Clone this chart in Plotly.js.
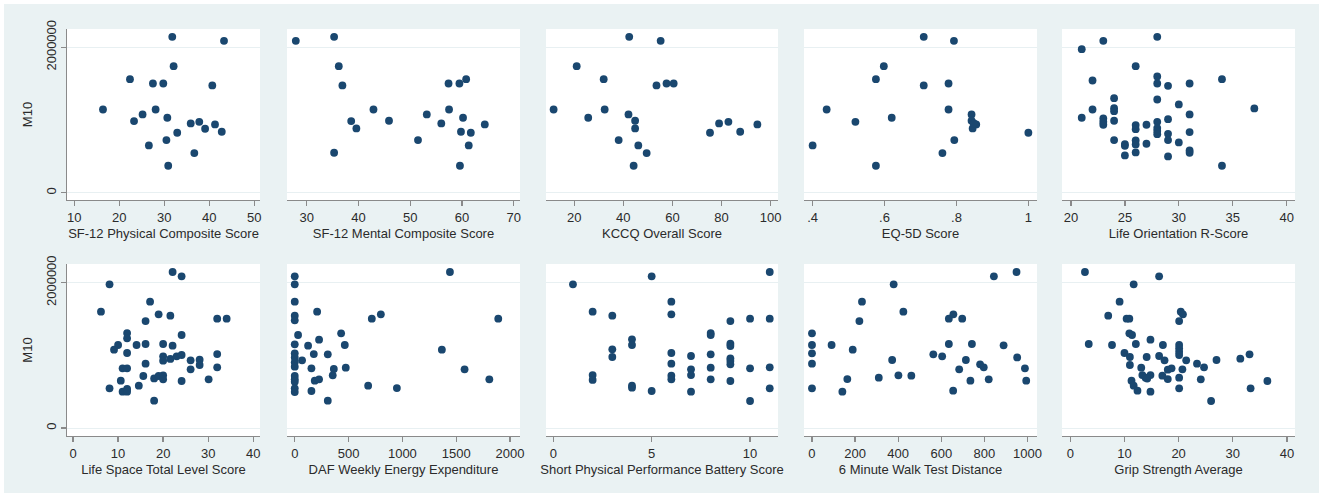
<!DOCTYPE html>
<html><head><meta charset="utf-8">
<script src="https://cdn.plot.ly/plotly-3.0.1.min.js"></script>
<style>html,body{margin:0;padding:0;background:#fff}#chart{width:1324px;height:496px}</style>
</head><body><div id="chart"></div>
<script>
// ---------- DATA ----------
const yTitle = "M10";
const yTickVals = [0, 2000000];
const yTickText = ["0", "2000000"];

// Row 1
const sf12PhysTitle = "SF-12 Physical Composite Score";
const sf12PhysX = [31.8,43.3,32.1,22.4,27.5,29.8,40.7,16.4,28.1,25.2,23.3,30.7,35.9,37.8,39.1,41.3,42.8,32.9,30.5,26.6,36.7,30.9];
const sf12PhysY = [2142000,2087000,1739000,1561000,1501000,1501000,1474000,1144000,1144000,1076000,984000,1030000,952000,975000,879000,938000,838000,824000,723000,650000,545000,371000];
const sf12PhysTicks = [10,20,30,40,50];

const sf12MentTitle = "SF-12 Mental Composite Score";
const sf12MentX = [27.9,35.3,36.2,36.9,57.4,59.5,60.8,42.9,57.5,53.2,38.6,45.9,39.6,56.0,60.2,64.4,59.8,61.7,51.5,61.3,35.3,59.6];
const sf12MentY = [2087000,2142000,1739000,1474000,1501000,1501000,1561000,1144000,1144000,1076000,984000,989000,883000,952000,1030000,938000,838000,824000,723000,650000,549000,371000];
const sf12MentTicks = [30,40,50,60,70];

const kccqTitle = "KCCQ Overall Score";
const kccqX = [42.4,55.2,21.0,32.0,53.5,57.6,60.5,11.6,32.4,25.7,42.1,44.8,44.8,38.1,46.1,49.5,44.2,75.3,79.0,82.8,87.6,94.6];
const kccqY = [2142000,2087000,1739000,1561000,1474000,1501000,1501000,1144000,1144000,1030000,1076000,989000,883000,723000,650000,545000,371000,824000,952000,975000,838000,938000];
const kccqTicks = [20,40,60,80,100];

const eq5dTitle = "EQ-5D Score";
const eq5dX = [0.709,0.793,0.598,0.576,0.709,0.778,0.439,0.778,0.620,0.519,0.842,0.842,0.855,0.845,0.848,1.0,0.40,0.794,0.761,0.576];
const eq5dY = [2142000,2087000,1739000,1561000,1474000,1501000,1144000,1144000,1030000,975000,1076000,989000,938000,883000,955000,824000,650000,723000,545000,371000];
const eq5dTicks = [0.4,0.6,0.8,1];
const eq5dTickText = [".4",".6",".8","1"];

const lotrTitle = "Life Orientation R-Score";
const lotrX = [28,23,21,26,22,28,28,29,31,34,24,28,30,24,22,24,37,21,31,23,23,23,24,29,26,27,28,26,28,28,28,29,31,24,26,29,30,25,25,26,27,31,31,26,25,29,34];
const lotrY = [2142000,2087000,1973000,1739000,1542000,1597000,1501000,1469000,1501000,1561000,1300000,1281000,1213000,1162000,1144000,1121000,1158000,1030000,1076000,1021000,975000,934000,989000,1011000,929000,934000,975000,874000,888000,847000,805000,810000,833000,723000,719000,723000,691000,668000,645000,664000,673000,581000,549000,554000,513000,499000,371000];
const lotrTicks = [20,25,30,35,40];

// Row 2
const lifeSpaceTitle = "Life Space Total Level Score";
const lifeSpaceX = [22.1,24.1,8.1,17.1,6.2,19.0,21.6,16.1,32.0,34.1,12.0,12.0,24.1,10.0,14.1,16.1,20.0,22.1,9.1,12.0,32.0,20.0,20.0,21.6,23.0,24.1,26.1,28.1,28.1,16.1,11.0,12.0,26.1,32.0,15.6,18.0,19.0,20.0,20.0,10.6,24.1,30.1,14.6,8.1,12.0,11.0,12.0,18.0];
const lifeSpaceY = [2147000,2087000,1977000,1739000,1601000,1564000,1546000,1472000,1505000,1505000,1307000,1234000,1280000,1142000,1142000,1156000,1156000,1133000,1078000,1032000,1018000,986000,927000,950000,986000,1005000,931000,940000,867000,885000,821000,821000,807000,835000,716000,683000,716000,725000,670000,651000,647000,670000,583000,546000,537000,500000,500000,376000];
const lifeSpaceTicks = [0,10,20,30,40];

const dafTitle = "DAF Weekly Energy Expenditure";
const dafX = [1442,0,0,0,208,0,0,800,716,1891,31,431,226,0,124,465,1367,0,177,307,0,68,0,0,155,363,474,1578,0,353,0,186,226,0,1808,682,949,0,0,155,307];
const dafY = [2147000,2087000,1977000,1739000,1601000,1546000,1482000,1564000,1505000,1505000,1280000,1303000,1216000,1151000,1133000,1142000,1078000,1028000,1018000,1014000,972000,931000,904000,844000,821000,812000,830000,807000,716000,725000,670000,651000,670000,638000,670000,583000,550000,546000,495000,509000,376000];
const dafTicks = [0,500,1000,1500,2000];

const sppbTitle = "Short Physical Performance Battery Score";
const sppbX = [11,5,1,6,6,2,3,9,10,11,8,8,4,4,9,9,3,3,6,7,8,9,9,9,6,7,7,8,10,11,2,2,6,6,8,9,4,4,5,7,11,10];
const sppbY = [2147000,2087000,1977000,1739000,1564000,1601000,1546000,1472000,1505000,1505000,1307000,1280000,1220000,1142000,1160000,1128000,1083000,977000,1032000,991000,1014000,959000,922000,876000,885000,807000,729000,830000,821000,835000,729000,661000,720000,670000,670000,647000,583000,555000,509000,500000,546000,372000];
const sppbTicks = [0,5,10];

const walkTitle = "6 Minute Walk Test Distance";
const walkX = [949,844,379,232,424,220,635,656,697,0,0,91,635,742,889,0,189,563,604,952,0,372,714,780,797,683,988,164,310,401,461,735,820,994,0,141,655];
const walkY = [2147000,2087000,1977000,1739000,1601000,1472000,1505000,1564000,1505000,1303000,1142000,1142000,1156000,1156000,1138000,1028000,1078000,1014000,986000,972000,885000,936000,936000,876000,835000,807000,821000,674000,693000,725000,720000,651000,670000,651000,546000,500000,514000];
const walkTicks = [0,200,400,600,800,1000];

const gripTitle = "Grip Strength Average";
const gripX = [2.7,16.4,11.7,9.1,7.0,10.4,10.9,20.4,20.8,20.1,10.9,11.4,3.4,7.7,12.1,14.8,17.1,20.1,20.1,20.1,20.1,10.0,11.0,14.1,16.4,17.4,21.4,23.4,27.0,31.4,33.1,11.0,13.1,24.7,20.7,18.0,18.7,13.3,13.9,14.8,17.0,18.0,20.1,24.1,36.4,11.3,11.7,12.4,14.8,20.1,33.3,26.0,14.2];
const gripY = [2147000,2087000,1977000,1739000,1546000,1505000,1505000,1601000,1564000,1472000,1303000,1280000,1156000,1142000,1156000,1216000,1142000,1142000,1096000,1050000,1005000,1032000,977000,977000,991000,931000,931000,885000,936000,954000,1014000,867000,830000,835000,807000,803000,821000,729000,693000,729000,720000,674000,693000,670000,647000,651000,583000,514000,500000,546000,546000,372000,680000];
const gripTicks = [0,10,20,30,40];

// ---------- PANELS ----------
const panels = [
  {title: sf12PhysTitle, x: sf12PhysX, y: sf12PhysY, ticks: sf12PhysTicks},
  {title: sf12MentTitle, x: sf12MentX, y: sf12MentY, ticks: sf12MentTicks},
  {title: kccqTitle, x: kccqX, y: kccqY, ticks: kccqTicks},
  {title: eq5dTitle, x: eq5dX, y: eq5dY, ticks: eq5dTicks, tickText: eq5dTickText},
  {title: lotrTitle, x: lotrX, y: lotrY, ticks: lotrTicks},
  {title: lifeSpaceTitle, x: lifeSpaceX, y: lifeSpaceY, ticks: lifeSpaceTicks},
  {title: dafTitle, x: dafX, y: dafY, ticks: dafTicks},
  {title: sppbTitle, x: sppbX, y: sppbY, ticks: sppbTicks},
  {title: walkTitle, x: walkX, y: walkY, ticks: walkTicks},
  {title: gripTitle, x: gripX, y: gripY, ticks: gripTicks}
];

// layout geometry (pixels)
const W = 1324, H = 496;
const colPx = [[67,260],[287,520],[546,778],[804,1037],[1062,1295]];
const rowPx = [[29,200],[264,436]];
const xRanges = [[8.4,51.3],[26.2,71.2],[8.5,103],[0.376,1.024],[19.17,40.77],
                 [-1.34,41.5],[-72,2093],[-0.37,11.42],[-37,1044],[-1.54,41.5]];
const yRanges = [[-100000,2250000],[-110000,2257000]];

const FONT = "Liberation Sans, Arial, Helvetica, sans-serif";
const NAVY = "#1a476f";
const AXIS = "#8a8a8a";
const TXT = "#2b2b2b";
const FS = 13;

const data = [];
const layout = {
  width: W, height: H,
  margin: {l:0, r:0, t:0, b:0},
  paper_bgcolor: "#eaf2f3",
  plot_bgcolor: "#ffffff",
  showlegend: false,
  font: {family: FONT, size: FS, color: TXT},
  shapes: [
    {type:"rect", xref:"paper", yref:"paper", x0:0, x1:1, y0:1-4/H, y1:1, fillcolor:"#ffffff", line:{width:0}},
    {type:"rect", xref:"paper", yref:"paper", x0:0, x1:1, y0:0, y1:3/H, fillcolor:"#ffffff", line:{width:0}},
    {type:"rect", xref:"paper", yref:"paper", x0:0, x1:4/W, y0:0, y1:1, fillcolor:"#ffffff", line:{width:0}},
    {type:"rect", xref:"paper", yref:"paper", x0:1-5/W, x1:1, y0:0, y1:1, fillcolor:"#ffffff", line:{width:0}}
  ]
};

panels.forEach((p, i) => {
  const n = i + 1;
  const row = Math.floor(i / 5), col = i % 5;
  const xa = n === 1 ? "xaxis" : "xaxis" + n;
  const ya = n === 1 ? "yaxis" : "yaxis" + n;
  const xs = n === 1 ? "x" : "x" + n;
  const ys = n === 1 ? "y" : "y" + n;
  data.push({
    type: "scatter", mode: "markers", x: p.x, y: p.y, xaxis: xs, yaxis: ys,
    marker: {color: NAVY, size: 7.8, line: {width: 0}},
    hoverinfo: "x+y"
  });
  layout[xa] = {
    domain: [colPx[col][0] / W, colPx[col][1] / W],
    anchor: ys,
    range: xRanges[i],
    tickmode: "array",
    tickvals: p.ticks,
    ticktext: p.tickText || p.ticks.map(String),
    showgrid: false, zeroline: false,
    showline: true, linecolor: AXIS, linewidth: 1.3,
    ticks: "outside", ticklen: 5, tickcolor: AXIS, tickwidth: 1.3,
    tickfont: {family: FONT, size: FS, color: TXT},
    title: {text: p.title, font: {family: FONT, size: FS, color: TXT}, standoff: 5},
    automargin: false, fixedrange: true
  };
  const showY = col === 0;
  layout[ya] = {
    domain: [1 - rowPx[row][1] / H, 1 - rowPx[row][0] / H],
    anchor: xs,
    range: yRanges[row],
    tickmode: "array",
    tickvals: yTickVals,
    ticktext: yTickText,
    showgrid: true, gridcolor: "#e8f0f2", gridwidth: 1,
    zeroline: false,
    showline: showY, linecolor: AXIS, linewidth: 1.3,
    ticks: showY ? "outside" : "", ticklen: 5, tickcolor: AXIS, tickwidth: 1.3,
    showticklabels: showY,
    tickangle: -90,
    tickfont: {family: FONT, size: FS, color: TXT},
    title: showY ? {text: yTitle, font: {family: FONT, size: FS, color: TXT}, standoff: 8} : {text: ""},
    automargin: false, fixedrange: true
  };
});

Plotly.newPlot("chart", data, layout, {displayModeBar: false, staticPlot: true});
</script></body></html>
